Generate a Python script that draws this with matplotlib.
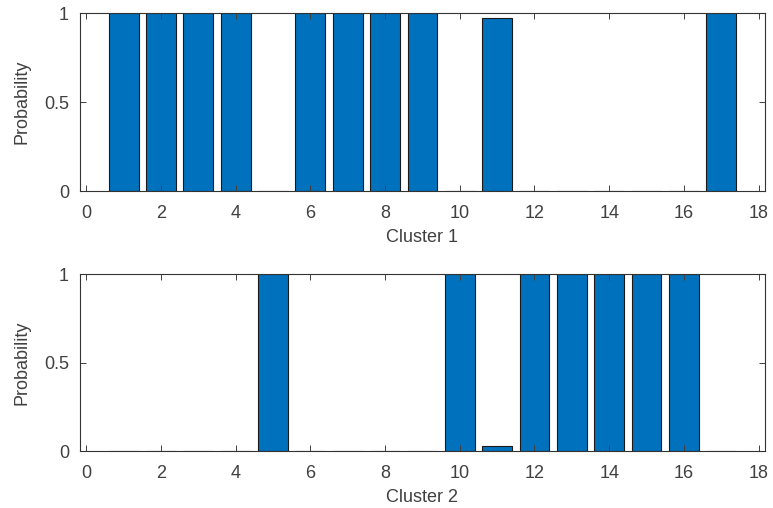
import matplotlib
matplotlib.use('Agg')
import matplotlib.pyplot as plt
import numpy as np

plt.rcParams['font.family'] = ['Liberation Sans', 'DejaVu Sans']

clusters = np.arange(1, 18)
cluster1_prob = [1, 1, 1, 1, 0, 1, 1, 1, 1, 0, 0.97, 0, 0, 0, 0, 0, 1]
cluster2_prob = [0, 0, 0, 0, 1, 0, 0, 0, 0, 1, 0.03, 1, 1, 1, 1, 1, 0]
xlabels = ['Cluster 1', 'Cluster 2']
xticks = [0, 2, 4, 6, 8, 10, 12, 14, 16, 18]
yticks = [0, 0.5, 1]
ytick_labels = ['0', '0.5', '1']

bar_color = '#0072BD'
text_color = '#404040'

fig = plt.figure(figsize=(7.73, 5.08), dpi=100)
positions = [[0.1035, 0.624, 0.886, 0.3504], [0.1035, 0.1122, 0.886, 0.3484]]

for pos, probs, label in zip(positions, [cluster1_prob, cluster2_prob], xlabels):
    ax = fig.add_axes(pos)
    ax.bar(clusters, probs, width=0.8, color=bar_color, edgecolor='#1a1a1a', linewidth=0.8)
    ax.set_xlim(-0.17, 18.17)
    ax.set_ylim(0, 1)
    ax.set_xticks(xticks)
    ax.set_yticks(yticks)
    ax.set_yticklabels(ytick_labels)
    ax.tick_params(direction='in', top=True, right=True, length=4, width=0.7,
                   labelsize=13, colors=text_color)
    ax.tick_params(axis='x', pad=10)
    ax.tick_params(axis='y', pad=8)
    ax.set_xlabel(label, fontsize=13, color=text_color, labelpad=5)
    ax.set_ylabel('Probability', fontsize=13, color=text_color, labelpad=10)
    for s in ax.spines.values():
        s.set_color('#333333')
        s.set_linewidth(0.8)

fig.savefig('out.png', dpi=100)
